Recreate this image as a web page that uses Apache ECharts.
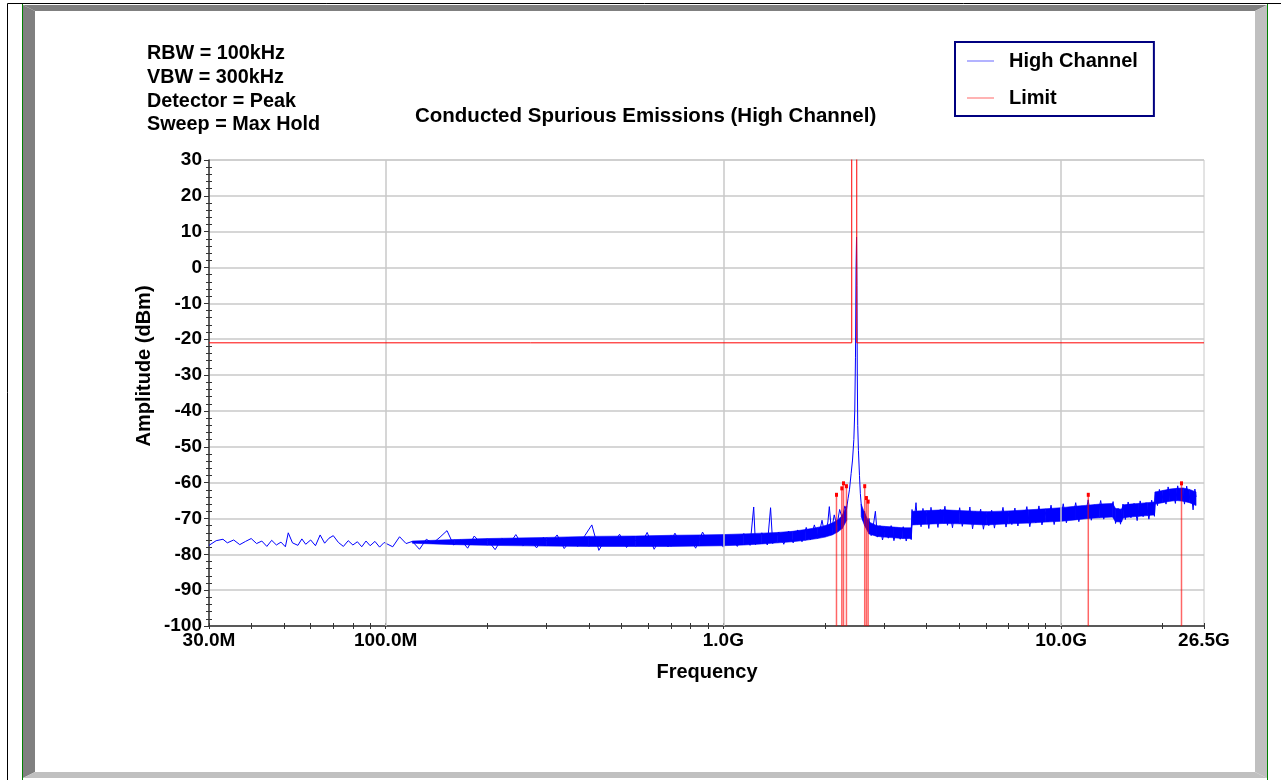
<!DOCTYPE html>
<html>
<head>
<meta charset="utf-8">
<script src="https://cdn.jsdelivr.net/npm/echarts@6/dist/echarts.min.js"></script>
<style>
  html, body { margin: 0; padding: 0; background: #ffffff; }
  #chart { width: 1281px; height: 780px; }
</style>
</head>
<body>
<div id="chart"></div>
<script>
// ---- Texts -------------------------------------------------------------
const settingsLines = ['RBW = 100kHz', 'VBW = 300kHz', 'Detector = Peak', 'Sweep = Max Hold'];
const chartTitle = 'Conducted Spurious Emissions (High Channel)';
const xAxisTitle = 'Frequency';
const yAxisTitle = 'Amplitude (dBm)';

// ---- Axes ----------------------------------------------------------------
const freqStartMHz = 30;
const freqStopMHz = 26500;
const freqLabelMHz = [30, 100, 1000, 10000, 26500];
const freqLabelText = ['30.0M', '100.0M', '1.0G', '10.0G', '26.5G'];
const freqGridMHz = [100, 1000, 10000];
const amplMin = -100;
const amplMax = 30;
const amplStep = 10;

// ---- High Channel sweep (max hold), [MHz, dBm] ---------------------------
const traceSweep = [
  [30, -77.5], [31.5, -76.2], [33, -75.8], [34, -76.8], [35.5, -76.0], [37, -77.3], [38.5, -76.4],
  [40, -75.6], [41.5, -77.0], [43, -76.3], [44.5, -77.8], [46, -76.1], [47.5, -77.4], [49, -76.6],
  [50.5, -77.9], [51.5, -74.0], [53, -76.8], [55, -77.5], [56.5, -75.7], [58, -77.2], [60, -76.0],
  [62, -77.6], [64, -74.6], [66, -76.9], [68, -75.5], [70, -74.8], [72.5, -76.7], [75, -77.8],
  [77.5, -76.2], [80, -77.4], [82.5, -76.5], [85, -77.9], [87.5, -76.3], [90, -77.6], [93, -76.4],
  [96, -78.0], [99, -76.7],
  [100, -76.2], [105, -77.9], [110, -75.1], [115, -77.0], [120, -76.4], [126, -78.6], [132, -75.8],
  [138, -76.9], [145, -75.2], [152, -73.4], [159, -77.4], [167, -76.0], [175, -78.3], [183, -74.9],
  [192, -77.0], [201, -76.1], [211, -78.7], [221, -75.6], [232, -77.3], [243, -74.5], [255, -77.6],
  [267, -76.0], [280, -78.2], [293, -75.3], [307, -77.1], [322, -74.6], [338, -78.4], [354, -75.9],
  [371, -77.8], [389, -74.8], [408, -71.8], [428, -78.9], [449, -75.5], [470, -77.2], [493, -74.4],
  [517, -78.1], [542, -75.6], [568, -77.5], [595, -73.9], [624, -78.6], [654, -75.2], [686, -77.9],
  [719, -74.1], [754, -77.6], [790, -75.0], [828, -78.3], [868, -73.8], [910, -77.4], [954, -74.9],
  [1000, -78.0], [1050, -74.6], [1100, -77.8], [1150, -74.2], [1200, -77.5], [1230, -66.8],
  [1245, -77.3], [1300, -74.0], [1350, -77.4], [1380, -67.0], [1400, -77.0], [1460, -73.8],
  [1510, -77.2], [1560, -73.5], [1610, -76.8], [1660, -73.2], [1710, -76.5], [1760, -72.5],
  [1810, -76.0], [1860, -71.8], [1910, -75.4], [1960, -70.5], [2000, -74.8], [2040, -71.0],
  [2060, -66.7], [2090, -73.6], [2130, -69.0], [2170, -72.0], [2210, -67.5], [2250, -70.0],
  [2290, -66.5], [2315, -67.6], [2340, -64.5], [2363, -62.0], [2390, -57.5], [2413, -53.7],
  [2435, -48.0], [2450, -40.0], [2462, -25.0], [2472, 0.0], [2480, 8.5], [2486, -5.0],
  [2493, -30.0], [2500, -44.0], [2512, -51.0], [2530, -58.0], [2545, -63.0], [2565, -67.0],
  [2590, -70.5], [2620, -68.0], [2660, -72.5], [2700, -70.0], [2740, -74.8], [2780, -72.0],
  [2820, -68.0], [2860, -75.2], [2910, -72.0], [2960, -76.0], [3020, -72.4], [3080, -75.5],
  [3140, -72.0], [3200, -76.2], [3270, -72.6], [3340, -75.8], [3410, -72.3], [3480, -76.3],
  [3550, -72.8], [3600, -75.9],
  [3620, -67.5], [3650, -70.8], [3690, -69.0], [3720, -65.6], [3760, -71.6], [3800, -68.4],
  [3850, -72.3], [3900, -67.2], [3950, -70.5], [4000, -68.6], [4060, -72.8], [4120, -66.9],
  [4180, -71.2], [4250, -68.8], [4320, -72.5], [4390, -67.5], [4460, -70.2], [4530, -66.6],
  [4610, -71.9], [4690, -68.3], [4770, -72.6], [4850, -67.9], [4930, -70.9], [5010, -67.0],
  [5100, -72.2], [5190, -68.7], [5280, -71.5], [5370, -66.8], [5470, -72.9], [5570, -68.1],
  [5670, -71.3], [5780, -67.4], [5890, -73.0], [6000, -68.9], [6110, -72.0], [6230, -67.7],
  [6350, -72.7], [6470, -68.2], [6600, -71.0], [6730, -66.9], [6870, -72.4], [7010, -68.5],
  [7150, -71.7], [7300, -67.1], [7450, -72.1], [7600, -68.0], [7760, -70.6], [7920, -66.7],
  [8080, -72.3], [8250, -67.9], [8420, -71.2], [8600, -66.5], [8780, -71.8], [8960, -68.1],
  [9150, -70.9], [9340, -66.3], [9540, -71.7], [9740, -67.6], [9950, -70.4], [10150, -65.9],
  [10370, -71.2], [10590, -67.0], [10820, -70.0], [11050, -65.6], [11290, -70.9], [11530, -66.5],
  [11780, -69.7], [12030, -64.8], [12290, -70.5], [12550, -66.2], [12820, -69.4], [13100, -65.0],
  [13380, -70.2], [13670, -66.0], [13960, -69.1], [14260, -65.3], [14500, -71.4], [14750, -67.2],
  [15000, -71.6], [15250, -66.0], [15500, -70.3], [15800, -65.4], [16100, -69.8], [16450, -65.8],
  [16800, -70.6], [17150, -65.1], [17500, -69.5], [17850, -65.6], [18200, -70.2], [18550, -64.9],
  [18900, -69.4], [19050, -62.6], [19300, -66.4], [19550, -61.9], [19850, -65.2], [20150, -62.3],
  [20450, -66.0], [20750, -61.2], [21100, -64.9], [21450, -62.0], [21800, -65.8], [22150, -60.9],
  [22500, -64.6], [22850, -61.5], [23200, -66.0], [23550, -61.0], [23900, -64.8], [24250, -62.2],
  [24600, -67.6], [24900, -61.8], [25100, -64.0]
];

// Dense noise-floor core of the sweep: low / high edges (dBm)
const floorLeftMHz  = [120, 160, 200, 300, 400, 550, 700, 850, 1000, 1150, 1300, 1450, 1600, 1750, 1900, 2000, 2100, 2180, 2250, 2320];
const floorLeftLow  = [-76.9, -77.3, -77.5, -77.7, -77.8, -77.8, -77.8, -77.7, -77.6, -77.4, -77.1, -76.8, -76.5, -76.1, -75.6, -75.2, -74.6, -73.8, -72.8, -70.5];
const floorLeftHigh = [-76.3, -75.9, -75.6, -75.3, -75.0, -74.9, -74.7, -74.6, -74.5, -74.3, -74.1, -73.9, -73.6, -73.1, -72.5, -72.0, -71.3, -70.4, -69.2, -66.5];
const floorRightMHz  = [2560, 2620, 2700, 2850, 3000, 3200, 3400, 3600, 3625, 4000, 4500, 5000, 6000, 7000, 8000, 9000, 10000, 11000, 12000, 13000, 14200, 14500, 15100, 15300, 16000, 17000, 18000, 18900, 19000, 20000, 21000, 22000, 23000, 24000, 25100];
const floorRightLow  = [-69.5, -72.0, -74.3, -75.0, -75.2, -75.4, -75.6, -75.6, -71.8, -71.6, -71.4, -71.5, -71.8, -71.5, -71.3, -71.0, -70.8, -70.4, -70.0, -69.8, -69.6, -70.9, -71.0, -69.8, -69.6, -69.4, -69.2, -69.0, -66.0, -65.6, -65.2, -65.0, -65.2, -65.6, -66.4];
const floorRightHigh = [-66.0, -68.5, -71.0, -72.0, -72.2, -72.4, -72.6, -72.6, -68.0, -67.8, -67.6, -67.8, -68.1, -67.9, -67.6, -67.3, -67.0, -66.6, -66.3, -66.0, -65.8, -67.2, -67.4, -66.2, -66.0, -65.8, -65.6, -65.4, -62.6, -62.2, -61.8, -61.6, -61.5, -61.9, -62.6];

// ---- Limit line (restricted band 2400-2483.5 MHz left open) -------------
const limitMHz = [30, 2400, 2400, 2483.5, 2483.5, 26500];
const limitDbm = [-21, -21, 40, 40, -21, -21];

// ---- Peak markers --------------------------------------------------------
const markerMHz = [2163, 2243, 2269, 2315, 2622, 2653, 2684, 12040, 22730];
const markerDbm = [-63.4, -61.6, -60.2, -61.0, -61.0, -64.3, -65.3, -63.4, -60.2];

// ---- Helpers ---------------------------------------------------------------
const FONT = '"Liberation Sans", Arial, sans-serif';
const lg = mhz => Math.log10(mhz * 1e6);
const xMin = lg(freqStartMHz);
const xMax = lg(freqStopMHz);

// log-style ticks: every k x 10^n inside the sweep range
const freqTicks = [];
for (let dec = 10; dec <= 10000; dec *= 10) {
  for (let k = 1; k < 10; k++) {
    const f = k * dec;
    if (f >= freqStartMHz && f <= freqStopMHz) freqTicks.push(lg(f));
  }
}
freqTicks.push(xMax);

function labelFor(v) {
  const i = freqLabelMHz.findIndex(f => Math.abs(lg(f) - v) < 1e-6);
  return i >= 0 ? freqLabelText[i] : '';
}

function bandSegments(mhz, lo, hi) {
  const out = [];
  for (let i = 0; i < mhz.length - 1; i++) {
    out.push([lg(mhz[i]), lo[i], hi[i], lg(mhz[i + 1]), lo[i + 1], hi[i + 1]]);
  }
  return out;
}
const floorData = bandSegments(floorLeftMHz, floorLeftLow, floorLeftHigh)
  .concat(bandSegments(floorRightMHz, floorRightLow, floorRightHigh));

const axisCommon = {
  type: 'value',
  min: xMin,
  max: xMax,
  position: 'bottom',
  splitLine: { show: false }
};

const chart = echarts.init(document.getElementById('chart'), null, { renderer: 'canvas' });

chart.setOption({
  animation: false,
  backgroundColor: '#ffffff',
  title: {
    text: chartTitle,
    left: 415,
    top: 106,
    padding: 0,
    textStyle: { fontFamily: FONT, fontSize: 20.5, fontWeight: 'bold', color: '#000000' }
  },
  legend: {
    orient: 'vertical',
    left: 955,
    top: 42,
    data: ['High Channel', 'Limit'],
    icon: 'rect',
    itemWidth: 27,
    itemHeight: 1,
    itemGap: 17,
    padding: [9, 16, 8, 12],
    borderColor: '#000080',
    borderWidth: 2,
    itemStyle: { opacity: 0.6 },
    textStyle: { fontFamily: FONT, fontSize: 20, fontWeight: 'bold', color: '#000000', padding: [0, 0, 0, 10] }
  },
  grid: {
    left: 209,
    top: 160,
    width: 995,
    height: 466,
    show: true,
    borderColor: '#c8c8c8',
    borderWidth: 1,
    backgroundColor: 'transparent'
  },
  xAxis: [
    Object.assign({}, axisCommon, {
      axisLine: { show: true, onZero: false, lineStyle: { color: '#333333', width: 1.5 } },
      axisTick: { show: true, customValues: freqTicks, length: 3, lineStyle: { color: '#333333' } },
      axisLabel: {
        customValues: freqLabelMHz.map(lg),
        formatter: labelFor,
        margin: 5,
        fontFamily: FONT, fontSize: 19, fontWeight: 'bold', color: '#000000'
      }
    }),
    Object.assign({}, axisCommon, {
      axisLine: { show: false, onZero: false },
      axisTick: { show: true, inside: true, customValues: freqTicks, length: 3, lineStyle: { color: '#333333' } },
      axisLabel: { show: false }
    })
  ],
  yAxis: [
    {
      type: 'value',
      position: 'left',
      min: amplMin,
      max: amplMax,
      interval: amplStep,
      axisLine: { show: true, onZero: false, lineStyle: { color: '#333333', width: 1.5 } },
      axisTick: { show: true, length: 5, lineStyle: { color: '#333333' } },
      minorTick: { show: true, splitNumber: 5, length: 3, lineStyle: { color: '#333333' } },
      splitLine: { show: true, lineStyle: { color: '#c8c8c8', width: 1.5 } },
      axisLabel: { margin: 7, fontFamily: FONT, fontSize: 19, fontWeight: 'bold', color: '#000000' }
    },
    {
      type: 'value',
      position: 'left',
      min: amplMin,
      max: amplMax,
      interval: amplStep,
      axisLine: { show: false, onZero: false },
      axisTick: { show: false, inside: true, length: 3 },
      minorTick: { show: true, splitNumber: 5, length: 3, lineStyle: { color: '#333333' } },
      splitLine: { show: false },
      axisLabel: { show: false }
    }
  ],
  graphic: [
    // report frame
    { type: 'rect', silent: true, z: -10, shape: { x: 7.5, y: 3.5, width: 1300, height: 800 }, style: { fill: 'none', stroke: '#000000', lineWidth: 1 } },
    { type: 'polygon', silent: true, z: -9, shape: { points: [[23, 5], [1267, 5], [1255, 11], [35, 11]] }, style: { fill: '#808080' } },
    { type: 'polygon', silent: true, z: -9, shape: { points: [[23, 5], [35, 11], [35, 772], [23, 778]] }, style: { fill: '#808080' } },
    { type: 'polygon', silent: true, z: -9, shape: { points: [[1267, 5], [1267, 778], [1255, 772], [1255, 11]] }, style: { fill: '#c0c0c0' } },
    { type: 'polygon', silent: true, z: -9, shape: { points: [[23, 778], [1267, 778], [1255, 772], [35, 772]] }, style: { fill: '#c0c0c0' } },
    { type: 'line', silent: true, z: -8, shape: { x1: 22.5, y1: 4, x2: 22.5, y2: 780 }, style: { stroke: '#008000', lineWidth: 1 } },
    { type: 'line', silent: true, z: -8, shape: { x1: 1267.5, y1: 4, x2: 1267.5, y2: 780 }, style: { stroke: '#008000', lineWidth: 1 } },
    // measurement settings
    {
      type: 'text', silent: true, x: 147, y: 42,
      style: {
        text: settingsLines.join('\n'), font: 'bold 19.8px ' + FONT, fill: '#000000',
        lineHeight: 23.7, textAlign: 'left', textVerticalAlign: 'top', align: 'left', verticalAlign: 'top'
      }
    },
    // axis titles
    {
      type: 'text', silent: true, x: 144, y: 366, rotation: Math.PI / 2,
      style: {
        text: yAxisTitle, font: 'bold 20px ' + FONT, fill: '#000000',
        textAlign: 'center', textVerticalAlign: 'middle', align: 'center', verticalAlign: 'middle'
      }
    },
    {
      type: 'text', silent: true, x: 707, y: 672,
      style: {
        text: xAxisTitle, font: 'bold 20px ' + FONT, fill: '#000000',
        textAlign: 'center', textVerticalAlign: 'middle', align: 'center', verticalAlign: 'middle'
      }
    }
  ],
  series: [
    {
      name: 'High Channel',
      type: 'line',
      z: 4,
      data: traceSweep.map(p => [lg(p[0]), p[1]]),
      showSymbol: false,
      symbol: 'none',
      sampling: null,
      color: '#0000ff',
      lineStyle: { color: '#0000ff', width: 1 }
    },
    {
      name: 'High Channel',
      type: 'custom',
      z: 3,
      data: floorData,
      encode: { x: [0, 3], y: [1, 2, 4, 5] },
      clip: true,
      renderItem: function (params, api) {
        const a = api.coord([api.value(0), api.value(1)]);
        const b = api.coord([api.value(3), api.value(4)]);
        const c = api.coord([api.value(3), api.value(5)]);
        const d = api.coord([api.value(0), api.value(2)]);
        return {
          type: 'polygon',
          shape: { points: [a, b, c, d] },
          style: { fill: '#0000ff', stroke: '#0000ff', lineWidth: 0.6 }
        };
      }
    },
    {
      name: 'Limit',
      type: 'line',
      z: 5,
      data: limitMHz.map((f, i) => [lg(f), limitDbm[i]]),
      showSymbol: false,
      symbol: 'none',
      clip: true,
      color: '#ff0000',
      lineStyle: { color: '#ff0000', width: 1 }
    },
    {
      name: 'Markers',
      type: 'custom',
      z: 6,
      data: markerMHz.map((f, i) => [lg(f), markerDbm[i]]),
      encode: { x: 0, y: 1 },
      renderItem: function (params, api) {
        const top = api.coord([api.value(0), api.value(1)]);
        const bottom = api.coord([api.value(0), amplMin]);
        return {
          type: 'group',
          children: [
            { type: 'line', shape: { x1: top[0], y1: top[1], x2: bottom[0], y2: bottom[1] }, style: { stroke: 'rgba(255,0,0,0.6)', lineWidth: 1.5 } },
            { type: 'rect', shape: { x: top[0] - 1.5, y: top[1] - 2, width: 3, height: 4 }, style: { fill: '#ff0000' } }
          ]
        };
      }
    },
    {
      name: 'Decades',
      type: 'line',
      z: 1,
      data: [[xMin, amplMin]],
      symbol: 'none',
      silent: true,
      markLine: {
        silent: true,
        symbol: 'none',
        label: { show: false },
        lineStyle: { color: '#c8c8c8', width: 1.5, type: 'solid' },
        data: freqGridMHz.map(f => ({ xAxis: lg(f) }))
      }
    }
  ]
});
</script>
</body>
</html>
